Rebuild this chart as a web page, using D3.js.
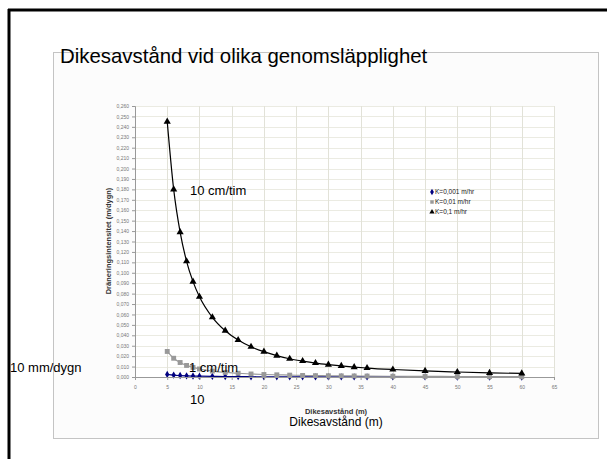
<!DOCTYPE html>
<html><head><meta charset="utf-8">
<script src="https://cdn.jsdelivr.net/npm/d3@7"></script>
<style>body{margin:0;background:#fff;}svg{display:block;font-family:"Liberation Sans",Arial,sans-serif;}</style>
</head><body><svg id="c" width="607" height="459"></svg>
<script>
const distances = [5,6,7,8,9,10,12,14,16,18,20,22,24,26,28,30,32,34,36,40,45,50,55,60];
const seriesNames = ["K=0,001 m/hr","K=0,01 m/hr","K=0,1 m/hr"];
const k0001 = [0.0025,0.0018,0.0014,0.0011,0.0009,0.0008,0.0006,0.0004,0.0004,0.0003,0.0002,0.0002,0.0002,0.0002,0.0001,0.0001,0.0001,0.0001,0.0001,0.0001,0.0001,0.0000,0.0000,0.0000];
const k001 = [0.0245,0.0180,0.0139,0.0111,0.0092,0.0077,0.0057,0.0044,0.0036,0.0029,0.0024,0.0021,0.0018,0.0015,0.0013,0.0012,0.0011,0.0010,0.0009,0.0007,0.0006,0.0005,0.0004,0.0003];
const k01 = [0.245,0.180,0.139,0.111,0.0915,0.077,0.0573,0.0444,0.0355,0.029,0.0243,0.0205,0.0175,0.0153,0.0134,0.0119,0.0106,0.0095,0.0086,0.0072,0.0058,0.0048,0.0040,0.0034];
const xTicks = [0,5,10,15,20,25,30,35,40,45,50,55,60,65];
const yTicks = d3.range(0,27).map(i=>i/100);
const annotations = [
  {text:"10 cm/tim", x:190, y:195, size:13},
  {text:"1 cm/tim", x:189, y:372, size:13},
  {text:"10 mm/dygn", x:10, y:372, size:13},
  {text:"10", x:190, y:404, size:13}
];

const svg = d3.select("#c");
svg.append("line").attr("x1",9).attr("x2",9).attr("y1",9).attr("y2",459).attr("stroke","#000").attr("stroke-width",3);
svg.append("line").attr("x1",8).attr("x2",607).attr("y1",10).attr("y2",10).attr("stroke","#000").attr("stroke-width",3);
svg.append("rect").attr("x",53.5).attr("y",52.5).attr("width",545).attr("height",386).attr("fill","#fcfcfc").attr("stroke","#c4c4c4").attr("stroke-width",1);

const x = d3.scaleLinear().domain([0,65]).range([135,554]);
const y = d3.scaleLinear().domain([0,0.26]).range([377,106]);
const g = svg.append("g");
g.append("rect").attr("x",x(0)).attr("y",y(0.26)).attr("width",x(65)-x(0)).attr("height",y(0)-y(0.26)).attr("fill","#fff");
g.selectAll(".hg").data(yTicks).enter().append("line").attr("x1",x(0)).attr("x2",x(65))
  .attr("y1",d=>Math.round(y(d))+0.5).attr("y2",d=>Math.round(y(d))+0.5).attr("stroke","#ebebe2").attr("stroke-width",1);
g.selectAll(".vg").data(xTicks).enter().append("line").attr("y1",y(0)).attr("y2",y(0.26))
  .attr("x1",d=>Math.round(x(d))+0.5).attr("x2",d=>Math.round(x(d))+0.5).attr("stroke","#e2e2d8").attr("stroke-width",1);
const fmt = d=>d3.format(".3f")(d).replace(".",",");
const ya = d3.axisLeft(y).tickValues(yTicks).tickFormat(fmt).tickSize(3);
const yg = svg.append("g").attr("transform",`translate(${x(0)},0)`).call(ya);
const xa = d3.axisBottom(x).tickValues(xTicks).tickSize(3);
const xg = svg.append("g").attr("transform",`translate(0,${y(0)})`).call(xa);
[yg,xg].forEach(a=>{a.select(".domain").attr("stroke","#999");a.selectAll(".tick line").attr("stroke","#999");
  a.selectAll("text").attr("fill","#777").style("font-size","5px").style("font-family","Liberation Sans, Arial");});
xg.selectAll("text").attr("dy","1.2em");

const series = [
  {name:seriesNames[0], vals:k0001, color:"#000080", sym:d3.symbolDiamond, size:16},
  {name:seriesNames[1], vals:k001, color:"#999999", sym:d3.symbolSquare, size:24},
  {name:seriesNames[2], vals:k01, color:"#000000", sym:d3.symbolTriangle, size:22}
];
const line = d3.line().x(d=>x(d[0])).y(d=>y(d[1])).curve(d3.curveMonotoneX);
series.forEach(s=>{
  const pts = distances.map((d,i)=>[d,s.vals[i]]);
  g.append("path").datum(pts).attr("d",line).attr("fill","none").attr("stroke",s.color).attr("stroke-width",1.2);
  g.selectAll(null).data(pts).enter().append("path").attr("d",d3.symbol().type(s.sym).size(s.size))
    .attr("transform",d=>`translate(${x(d[0])},${y(d[1])})`).attr("fill",s.color);
});
const lg = svg.append("g").attr("transform","translate(432,194)");
series.forEach((s,i)=>{
  const r = lg.append("g").attr("transform",`translate(0,${i*10})`);
  r.append("path").attr("d",d3.symbol().type(s.sym).size(12)).attr("fill",s.color).attr("transform","translate(0,-2)");
  r.append("text").attr("x",3).attr("y",0).text(s.name).style("font-size","6.5px").attr("fill","#222");
});
svg.append("text").attr("transform","translate(111,241) rotate(-90)").attr("text-anchor","middle")
  .style("font-size","7.5px").style("font-weight","bold").attr("fill","#333").text("Dräneringsintensitet (m/dygn)");
svg.append("text").attr("x",336).attr("y",414).attr("text-anchor","middle").style("font-size","7.5px").style("font-weight","bold").attr("fill","#333").text("Dikesavstånd (m)");
svg.append("text").attr("x",336).attr("y",426).attr("text-anchor","middle").style("font-size","12px").attr("fill","#000").text("Dikesavstånd (m)");
svg.append("text").attr("x",60).attr("y",63).style("font-size","20.4px").attr("fill","#000").text("Dikesavstånd vid olika genomsläpplighet");
annotations.forEach(a=>svg.append("text").attr("x",a.x).attr("y",a.y).style("font-size",a.size+"px").attr("fill","#000").text(a.text));
</script></body></html>
